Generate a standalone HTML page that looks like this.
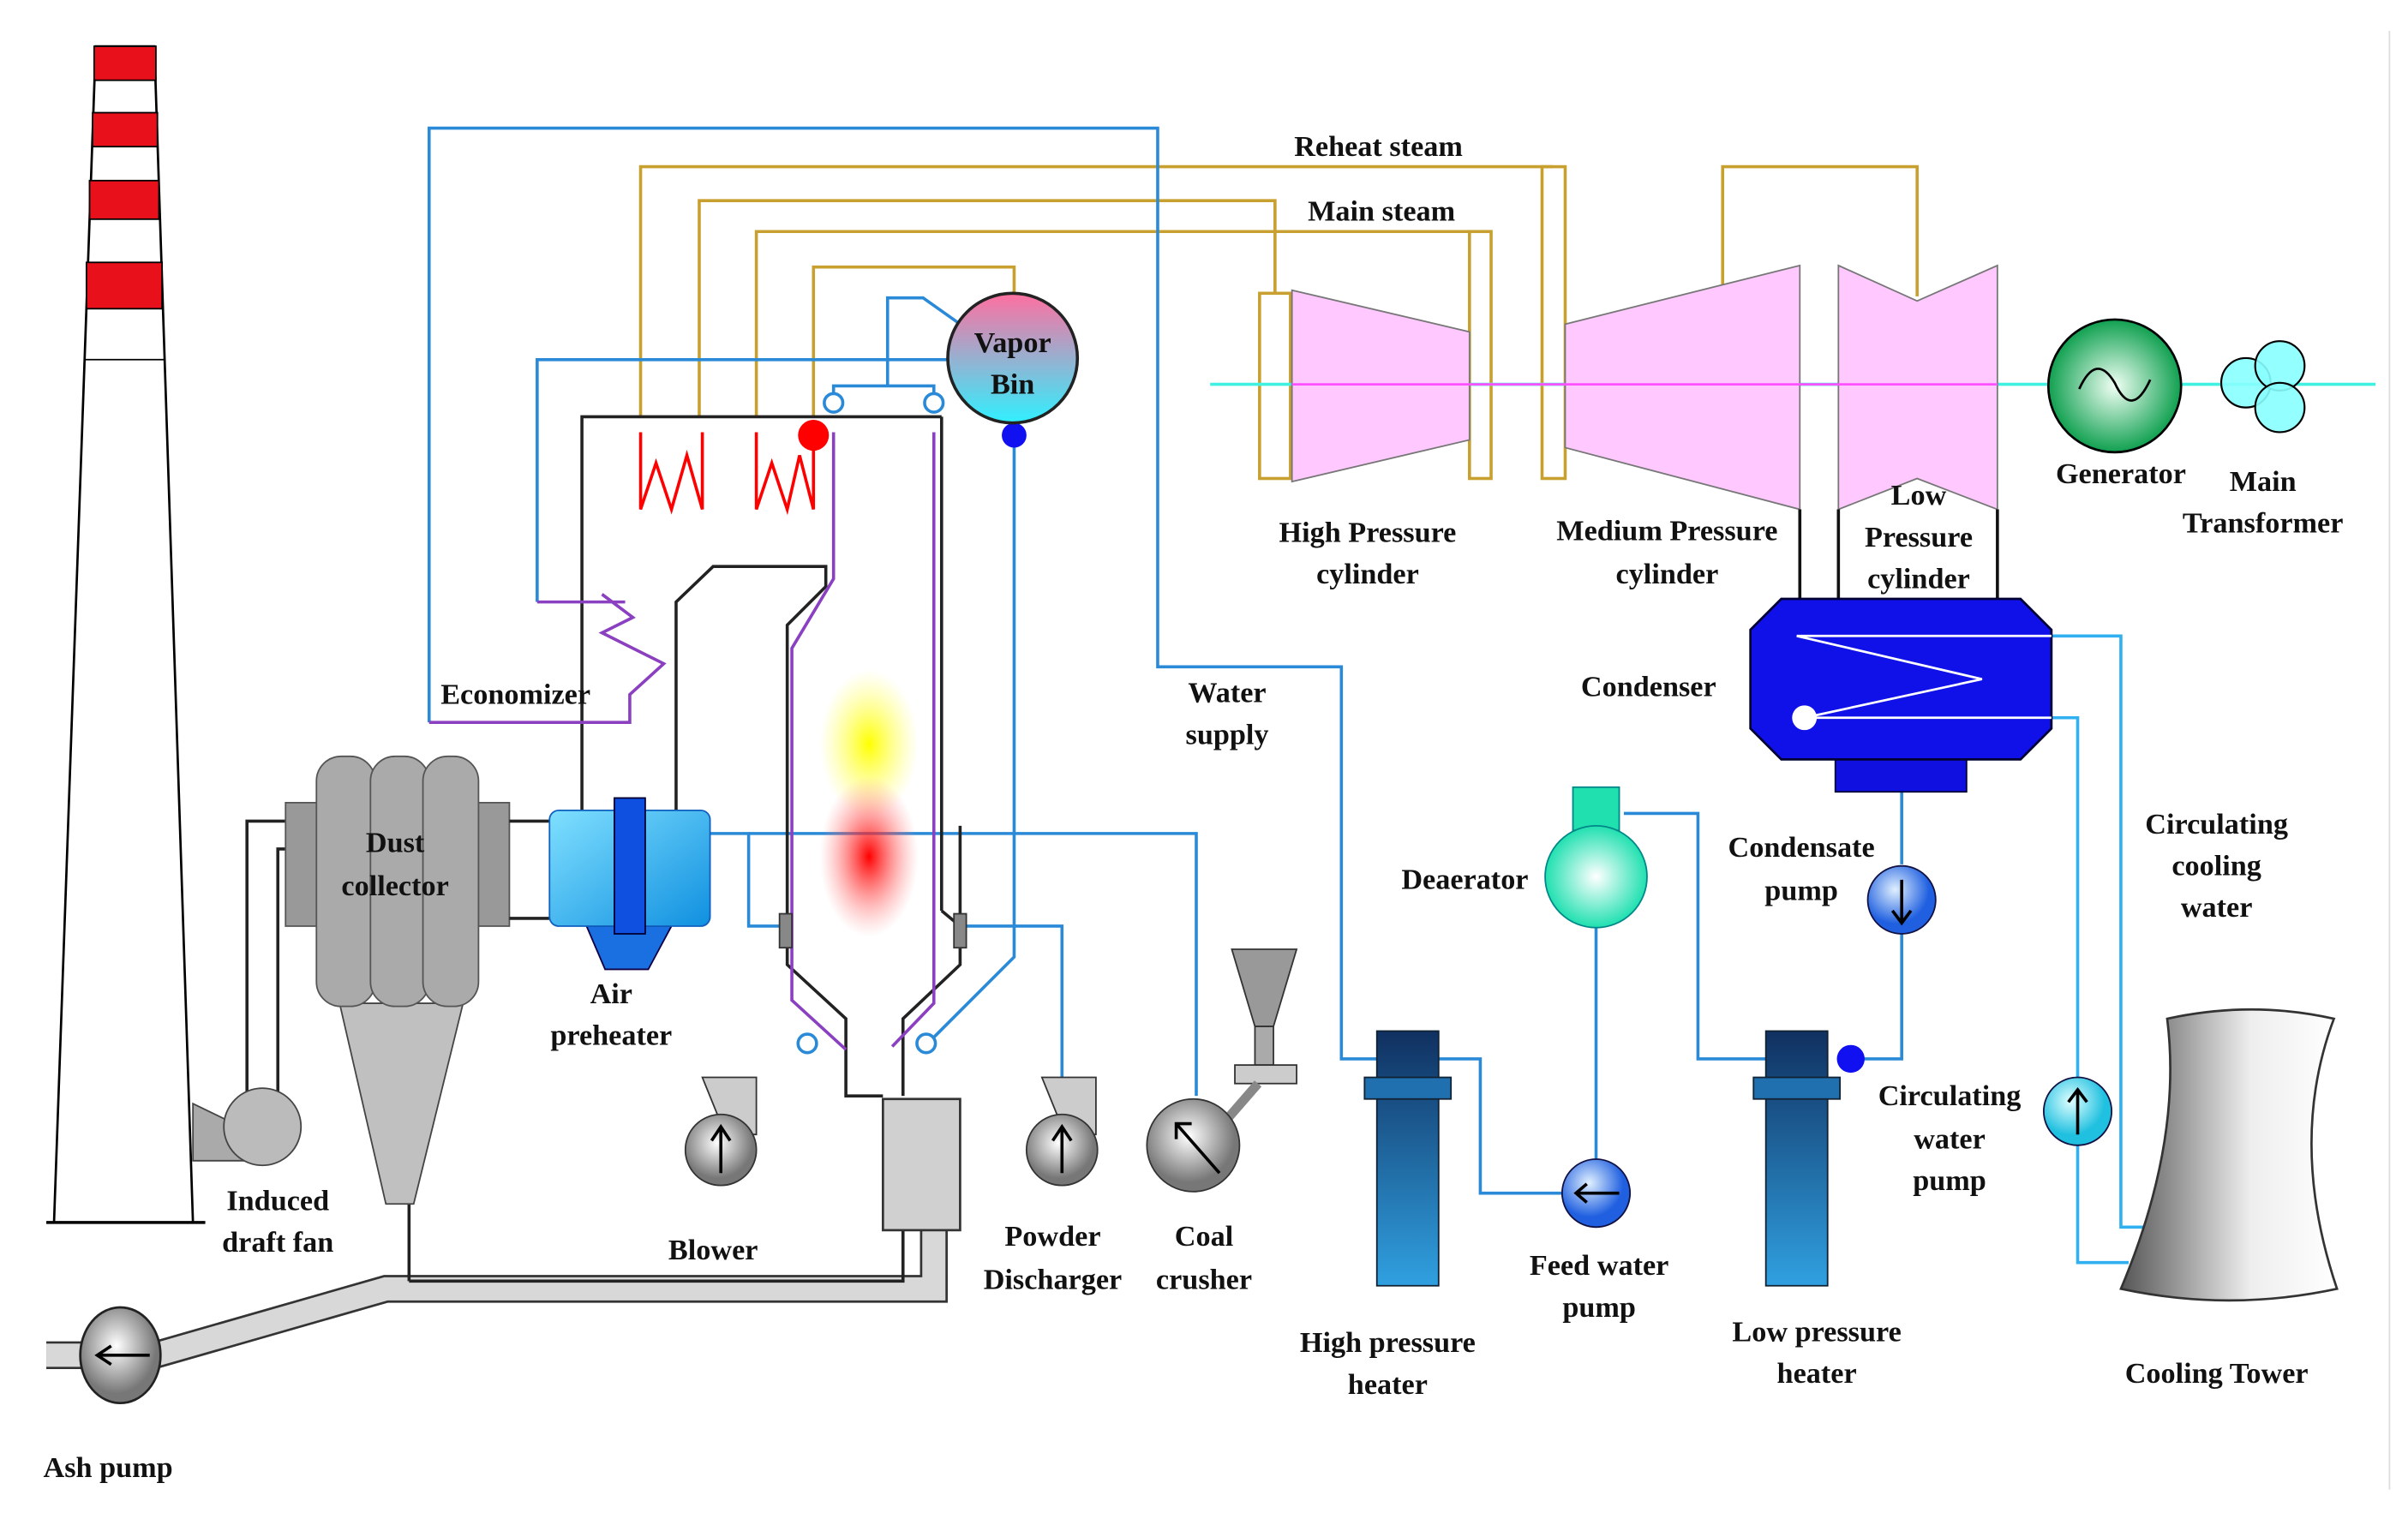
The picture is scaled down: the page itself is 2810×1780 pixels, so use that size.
<!DOCTYPE html>
<html><head><meta charset="utf-8"><style>
html,body{margin:0;padding:0;background:#fff}
svg{display:block}
text{font-family:"Liberation Serif",serif;font-weight:bold;font-size:19px;fill:#111;text-anchor:middle}
</style></head><body>
<svg width="2810" height="1780" viewBox="0 0 1560 988" preserveAspectRatio="none" xmlns="http://www.w3.org/2000/svg">
<defs>
<linearGradient id="vb" x1="0" y1="0" x2="0" y2="1"><stop offset="0" stop-color="#ff6fa0"/><stop offset="1" stop-color="#30f0ff"/></linearGradient>
<radialGradient id="gen" cx="0.5" cy="0.5"><stop offset="0" stop-color="#f0fff4"/><stop offset="1" stop-color="#10a050"/></radialGradient>
<radialGradient id="yel"><stop offset="0" stop-color="#ffff00"/><stop offset="1" stop-color="#ffff60" stop-opacity="0"/></radialGradient>
<radialGradient id="red"><stop offset="0" stop-color="#ff0000"/><stop offset="1" stop-color="#ff8080" stop-opacity="0"/></radialGradient>
<radialGradient id="gp" cx="0.45" cy="0.4"><stop offset="0" stop-color="#fff"/><stop offset="1" stop-color="#777"/></radialGradient>
<radialGradient id="bp" cx="0.4" cy="0.35"><stop offset="0" stop-color="#e0f0ff"/><stop offset="1" stop-color="#2060e0"/></radialGradient>
<radialGradient id="cp" cx="0.4" cy="0.35"><stop offset="0" stop-color="#e0ffff"/><stop offset="1" stop-color="#20c0e0"/></radialGradient>
<radialGradient id="dea" cx="0.5" cy="0.5"><stop offset="0" stop-color="#fff"/><stop offset="1" stop-color="#20e0b0"/></radialGradient>
<linearGradient id="heat" x1="0" y1="0" x2="0" y2="1"><stop offset="0" stop-color="#103060"/><stop offset="1" stop-color="#30a0e0"/></linearGradient>
<linearGradient id="ap" x1="0" y1="0" x2="1" y2="1"><stop offset="0" stop-color="#80e0ff"/><stop offset="1" stop-color="#1090e0"/></linearGradient>
<linearGradient id="ct" x1="0" y1="0" x2="1" y2="0"><stop offset="0" stop-color="#555"/><stop offset="0.6" stop-color="#eee"/><stop offset="1" stop-color="#fff"/></linearGradient>
</defs>
<!-- chimney -->
<polygon points="62,30 100,30 125,792 35,792" fill="#fff" stroke="#000" stroke-width="1.5"/>
<rect x="61" y="30" width="40" height="22" fill="#e8101a" stroke="#000"/>
<rect x="60" y="73" width="42" height="22" fill="#e8101a" stroke="#000"/>
<rect x="58" y="117" width="45" height="25" fill="#e8101a" stroke="#000"/>
<rect x="56" y="170" width="49" height="30" fill="#e8101a" stroke="#000"/>
<line x1="55" y1="233" x2="107" y2="233" stroke="#000"/>
<line x1="30" y1="792" x2="133" y2="792" stroke="#000" stroke-width="2"/>
<!-- gold steam pipes (left portions) -->
<g fill="none" stroke="#c8a030" stroke-width="2">
<path d="M415,270 V108 H1006"/>
<path d="M453,270 V130 H826 V190"/>
<path d="M490,270 V150 H959"/>
<path d="M527,270 V173 H657 V190"/>
</g>
<!-- blue water lines left -->
<g fill="none" stroke="#2a8ad8" stroke-width="2">
<path d="M278,468 V83 H750 V432 H869 V686 H899"/>
<path d="M348,390 V233 H615"/>
<path d="M575,250 V193 H598 L622,210"/>
<path d="M540,260 V250 H605 V260"/>
<path d="M657,285 V620 L605,672"/>
<path d="M460,540 H485 V600 H505"/>
<path d="M485,540 H775 V710"/>
<path d="M625,600 H688 V700"/>
</g>
<!-- boiler -->
<g fill="none" stroke="#222" stroke-width="2">
<path d="M377,525 V270 H610"/>
<path d="M610,270 V590"/>
<path d="M438,525 V390 L462,367 H535 V380 L510,405 V625 L548,660 V710 H572"/>
<path d="M622,535 V625 L585,660 V710"/>
<path d="M610,590 L622,600"/>
</g>
<path d="M540,280 V375 L513,420 V648 L548,680" fill="none" stroke="#8a40c0" stroke-width="2"/>
<path d="M605,280 V650 L578,678" fill="none" stroke="#8a40c0" stroke-width="2"/>
<path d="M390,385 L410,400 L390,410 L430,430 L408,450 L408,468 L278,468" fill="none" stroke="#8a40c0" stroke-width="2"/>
<path d="M348,390 H405" fill="none" stroke="#8a40c0" stroke-width="2"/>
<rect x="505" y="592" width="8" height="22" fill="#888" stroke="#333"/>
<rect x="618" y="592" width="8" height="22" fill="#888" stroke="#333"/>
<path d="M415,280 V330 L425,300 L435,330 L445,295 L455,330 V280" fill="none" stroke="#f00" stroke-width="2"/>
<path d="M490,280 V330 L500,300 L510,330 L518,295 L527,330 V290" fill="none" stroke="#f00" stroke-width="2"/>
<ellipse cx="563" cy="482" rx="32" ry="48" fill="url(#yel)"/>
<ellipse cx="563" cy="555" rx="32" ry="52" fill="url(#red)"/>
<circle cx="527" cy="282" r="10" fill="#f00"/>
<circle cx="657" cy="282" r="8" fill="#1010f0"/>
<circle cx="540" cy="261" r="6" fill="#fff" stroke="#2a8ad8" stroke-width="2"/>
<circle cx="605" cy="261" r="6" fill="#fff" stroke="#2a8ad8" stroke-width="2"/>
<circle cx="523" cy="676" r="6" fill="#fff" stroke="#2a8ad8" stroke-width="2"/>
<circle cx="600" cy="676" r="6" fill="#fff" stroke="#2a8ad8" stroke-width="2"/>
<circle cx="656" cy="232" r="42" fill="url(#vb)" stroke="#222" stroke-width="2"/>
<!-- ash lines -->
<path d="M30,878 H60 M100,878 L250,835 H605 V715" fill="none" stroke="#333" stroke-width="18"/>
<path d="M30,878 H60 M100,878 L250,835 H605 V715" fill="none" stroke="#d8d8d8" stroke-width="15"/>
<path d="M160,730 V532 H207 M180,730 V550 H207" fill="none" stroke="#222" stroke-width="2"/>
<path d="M265,830 V650 M585,797 V830 H265" fill="none" stroke="#222" stroke-width="2"/>
<rect x="572" y="712" width="50" height="85" fill="#d0d0d0" stroke="#333" stroke-width="1.5"/>
<!-- dust collector -->
<polygon points="220,650 300,650 268,780 250,780" fill="#c0c0c0" stroke="#444"/>
<polygon points="185,520 330,520 330,600 185,600" fill="#999" stroke="#555"/>
<rect x="205" y="490" width="38" height="162" rx="16" fill="#aaa" stroke="#555"/>
<rect x="240" y="490" width="38" height="162" rx="16" fill="#aaa" stroke="#555"/>
<rect x="274" y="490" width="36" height="162" rx="16" fill="#aaa" stroke="#555"/>
<path d="M330,532 H356 M330,595 H356" stroke="#222" stroke-width="2"/>
<!-- induced fan -->
<polygon points="125,715 160,732 160,752 125,752" fill="#aaa" stroke="#444"/>
<circle cx="170" cy="730" r="25" fill="#bbb" stroke="#444"/>
<!-- air preheater -->
<polygon points="380,600 435,600 420,628 392,628" fill="#1a70e0" stroke="#104"/>
<rect x="356" y="525" width="104" height="75" rx="6" fill="url(#ap)" stroke="#1060c0"/>
<rect x="398" y="517" width="20" height="88" fill="#1050e0" stroke="#003"/>
<!-- blower / discharger -->
<polygon points="455,698 490,698 490,735 470,735" fill="#ccc" stroke="#333"/>
<circle cx="467" cy="745" r="23" fill="url(#gp)" stroke="#333"/>
<path d="M467,760 V732 M461,739 L467,730 L473,739" stroke="#000" stroke-width="2" fill="none"/>
<polygon points="675,698 710,698 710,735 690,735" fill="#ccc" stroke="#333"/>
<circle cx="688" cy="745" r="23" fill="url(#gp)" stroke="#333"/>
<path d="M688,760 V732 M682,739 L688,730 L694,739" stroke="#000" stroke-width="2" fill="none"/>
<!-- coal crusher -->
<polygon points="798,615 840,615 825,665 813,665" fill="#999" stroke="#333"/>
<rect x="813" y="665" width="12" height="25" fill="#aaa" stroke="#333"/>
<rect x="800" y="690" width="40" height="12" fill="#ccc" stroke="#333"/>
<path d="M815,702 L795,725" stroke="#888" stroke-width="6"/>
<circle cx="773" cy="742" r="30" fill="url(#gp)" stroke="#333"/>
<path d="M790,760 L762,728 M762,738 L762,728 L772,728" stroke="#000" stroke-width="2" fill="none"/>
<!-- ash pump -->
<ellipse cx="78" cy="878" rx="26" ry="31" fill="url(#gp)" stroke="#222" stroke-width="1.5"/>
<path d="M97,878 H64 M72,872 L63,878 L72,884" stroke="#000" stroke-width="2" fill="none"/>

<!-- right side group shifted -->
<g transform="translate(-6,0)">
<g fill="none" stroke="#c8a030" stroke-width="2">
<path d="M1122,185 V108 H1248 V192"/>
<rect x="822" y="190" width="20" height="120"/>
<rect x="958" y="150" width="14" height="160"/>
<rect x="1005" y="108" width="15" height="202"/>
</g>
<line x1="790" y1="249" x2="1545" y2="249" stroke="#40f0e0" stroke-width="2"/>
<polygon points="843,188 958,215 958,285 843,312" fill="#ffc8ff" stroke="#777"/>
<polygon points="1020,210 1172,172 1172,330 1020,290" fill="#ffc8ff" stroke="#777"/>
<polygon points="1197,172 1248,195 1300,172 1300,330 1248,310 1197,330" fill="#ffc8ff" stroke="#777"/>
<line x1="843" y1="249" x2="1300" y2="249" stroke="#ff50ff" stroke-width="1.5"/>
<path d="M1172,330 V388 M1197,330 V388 M1300,330 V388" stroke="#111" stroke-width="2" fill="none"/>
<g fill="none" stroke="#2a8ad8" stroke-width="2">
<path d="M935,686 H965 V773 H1020"/>
<path d="M1058,527 H1106 V686 H1150"/>
<path d="M1040,600 V755"/>
<path d="M1238,512 V560"/>
<path d="M1238,605 V686 H1210"/>
</g>
<g fill="none" stroke="#30b0f0" stroke-width="2">
<path d="M1335,412 H1380 V795 H1395"/>
<path d="M1335,465 H1352 V700"/>
<path d="M1352,740 V818 H1385"/>
</g>
<rect x="898" y="668" width="40" height="165" fill="url(#heat)" stroke="#123"/>
<rect x="890" y="698" width="56" height="14" fill="#2070b0" stroke="#123"/>
<rect x="1150" y="668" width="40" height="165" fill="url(#heat)" stroke="#123"/>
<rect x="1142" y="698" width="56" height="14" fill="#2070b0" stroke="#123"/>
<circle cx="1205" cy="686" r="9" fill="#1010f0"/>
<rect x="1025" y="510" width="30" height="28" fill="#20e0b0" stroke="#088"/>
<circle cx="1040" cy="568" r="33" fill="url(#dea)" stroke="#088"/>
<circle cx="1040" cy="773" r="22" fill="url(#bp)" stroke="#114"/>
<path d="M1055,773 H1028 M1034,767 L1027,773 L1034,779" stroke="#000" stroke-width="2" fill="none"/>
<circle cx="1238" cy="583" r="22" fill="url(#bp)" stroke="#114"/>
<path d="M1238,570 V597 M1232,590 L1238,598 L1244,590" stroke="#000" stroke-width="2" fill="none"/>
<circle cx="1352" cy="720" r="22" fill="url(#cp)" stroke="#114"/>
<path d="M1352,735 V707 M1346,714 L1352,706 L1358,714" stroke="#000" stroke-width="2" fill="none"/>
<rect x="1195" y="488" width="85" height="25" fill="#1010e0" stroke="#003"/>
<polygon points="1160,388 1315,388 1335,408 1335,472 1315,492 1160,492 1140,472 1140,408" fill="#1010e8" stroke="#003" stroke-width="1.5"/>
<path d="M1335,412 H1290 L1170,412 L1290,440 L1175,465 H1335" fill="none" stroke="#fff" stroke-width="1.5"/>
<circle cx="1175" cy="465" r="8" fill="#fff"/>
<path d="M1410,660 Q1465,648 1518,660 Q1488,740 1520,835 Q1450,850 1380,835 Q1420,740 1410,660 Z" fill="url(#ct)" stroke="#333" stroke-width="1.5"/>
<text x="899" y="101">Reheat steam</text>
<text x="901" y="143">Main steam</text>
<text x="892" y="351">High Pressure</text><text x="892" y="378">cylinder</text>
<text x="1086" y="350">Medium Pressure</text><text x="1086" y="378">cylinder</text>
<text x="1249" y="327">Low</text><text x="1249" y="354">Pressure</text><text x="1249" y="381">cylinder</text>
<text x="1074" y="451">Condenser</text>
<text x="801" y="455">Water</text><text x="801" y="482">supply</text>
<text x="955" y="576">Deaerator</text>
<text x="1173" y="555">Condensate</text><text x="1173" y="583">pump</text>
<text x="1442" y="540">Circulating</text><text x="1442" y="567">cooling</text><text x="1442" y="594">water</text>
<text x="1269" y="716">Circulating</text><text x="1269" y="744">water</text><text x="1269" y="771">pump</text>
<text x="1042" y="826">Feed water</text><text x="1042" y="853">pump</text>
<text x="905" y="876">High pressure</text><text x="905" y="903">heater</text>
<text x="1183" y="869">Low pressure</text><text x="1183" y="896">heater</text>
<text x="1442" y="896">Cooling Tower</text>
</g>
<!-- generator & transformer absolute -->
<circle cx="1370" cy="250" r="43" fill="url(#gen)" stroke="#000" stroke-width="1.5"/>
<path d="M1347,252 q11,-24 23,-4 q11,24 23,-2" fill="none" stroke="#000" stroke-width="1.5"/>
<circle cx="1455" cy="248" r="16" fill="#8ff" stroke="#000" stroke-width="1.2" fill-opacity="0.9"/>
<circle cx="1477" cy="237" r="16" fill="#8ff" stroke="#000" stroke-width="1.2" fill-opacity="0.9"/>
<circle cx="1477" cy="264" r="16" fill="#8ff" stroke="#000" stroke-width="1.2" fill-opacity="0.9"/>
<line x1="1548" y1="20" x2="1548" y2="965" stroke="#ddd"/>
<!-- left text -->
<text x="656" y="228">Vapor</text><text x="656" y="255">Bin</text>
<text x="1374" y="313">Generator</text>
<text x="1466" y="318">Main</text><text x="1466" y="345">Transformer</text>
<text x="334" y="456">Economizer</text>
<text x="256" y="552">Dust</text><text x="256" y="580">collector</text>
<text x="396" y="650">Air</text><text x="396" y="677">preheater</text>
<text x="180" y="784">Induced</text><text x="180" y="811">draft fan</text>
<text x="462" y="816">Blower</text>
<text x="682" y="807">Powder</text><text x="682" y="835">Discharger</text>
<text x="780" y="807">Coal</text><text x="780" y="835">crusher</text>
<text x="70" y="957">Ash pump</text>
</svg>
</body></html>
